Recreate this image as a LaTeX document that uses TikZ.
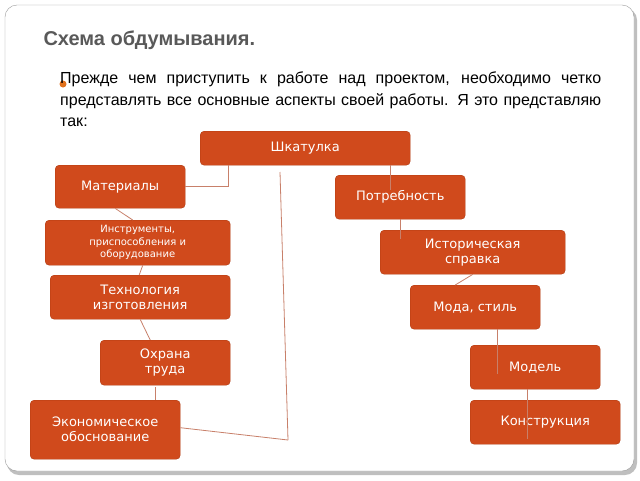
\documentclass[tikz,border=0pt]{standalone}
\usepackage{fontspec}
\setmainfont{Liberation Sans}
\newfontfamily\boxfont{DejaVu Sans}
\usetikzlibrary{positioning}
\definecolor{boxred}{HTML}{D04A1C}
\definecolor{boxedge}{HTML}{B03A10}
\definecolor{linkred}{HTML}{C8806A}
\definecolor{titlegray}{HTML}{595959}
\definecolor{bulletorange}{HTML}{E0701C}
\tikzset{
    item box/.style = {draw=boxedge,fill=boxred,rounded corners=4pt,text=white,
        align=center,font=\boxfont\fontsize{13}{15}\selectfont,inner sep=2pt,anchor=north west},
    link/.style     = {draw=linkred,line width=0.8pt}
}
\begin{document}
\begin{tikzpicture}[x=1pt,y=-1pt]
    \useasboundingbox (0,0) rectangle (640,480);
    % slide frame
    \fill[black!25,rounded corners=12pt] (7,8) rectangle (637,475);
    \draw[black!40,fill=white,rounded corners=12pt] (5,5) rectangle (634,471);

    \node[anchor=west,text=titlegray,font=\bfseries\fontsize{20}{24}\selectfont] (title) at (40,40) {Схема обдумывания.};
    \fill[bulletorange] (63,84) circle (3.5);
    \node[anchor=north west,text width=541pt,align=justify,inner sep=0pt,
          font=\fontsize{16}{21.5}\selectfont] (intro) at (60,72)
        {Прежде чем приступить к работе над проектом, необходимо четко представлять все основные аспекты своей работы. Я это представляю так:};

    % boxes
    \node[item box,minimum width=210,minimum height=34] (box)   at (200,131) {Шкатулка};
    \node[item box,minimum width=130,minimum height=43] (mat)   at (55,165)  {Материалы};
    \node[item box,minimum width=130,minimum height=44] (need)  at (335,175) {Потребность};
    \node[item box,minimum width=185,minimum height=45,font=\boxfont\fontsize{10}{12.5}\selectfont] (tools) at (45,220) {Инструменты,\\приспособления и\\оборудование};
    \node[item box,minimum width=185,minimum height=44] (hist)  at (380,230) {Историческая\\справка};
    \node[item box,minimum width=180,minimum height=44] (tech)  at (50,275)  {Технология\\изготовления};
    \node[item box,minimum width=130,minimum height=44] (fash)  at (410,285) {Мода, стиль};
    \node[item box,minimum width=130,minimum height=45] (safe)  at (100,340) {Охрана\\труда};
    \node[item box,minimum width=130,minimum height=44] (model) at (470,345) {Модель};
    \node[item box,minimum width=150,minimum height=59] (econ)  at (30,400)  {Экономическое\\обоснование};
    \node[item box,minimum width=150,minimum height=44] (cons)  at (470,400) {Конструкция};

    % connectors
    \coordinate (topend) at (280,172);
    \coordinate (botend) at (288,440);
    \draw[link] (box.south west) ++(28,0) |- (mat.east);
    \draw[link] (box.south east) ++(-20,0) -- ++(0,25);
    \draw[link] (topend) -- (botend);
    \draw[link] (econ.east) ++(0,-2) -- (botend);
    \draw[link] (mat.south) ++(-5,0) -- ([xshift=-5]tools.north);
    \draw[link] (tools.south) ++(5,0) -- ([xshift=-1]tech.north);
    \draw[link] (tech.south) -- ([xshift=-15]safe.north);
    \draw[link] (safe.south) ++(-10,2) -- ([xshift=50]econ.north);
    \draw[link] (need.south) -- ++(0,20);
    \draw[link] (hist.south) -- ([xshift=-20]fash.north);
    \draw[link] (fash.south) ++(22,0) -- ++(0,45);
    \draw[link] (model.south) ++(-8,0) -- ++(0,50);
\end{tikzpicture}
\end{document}
